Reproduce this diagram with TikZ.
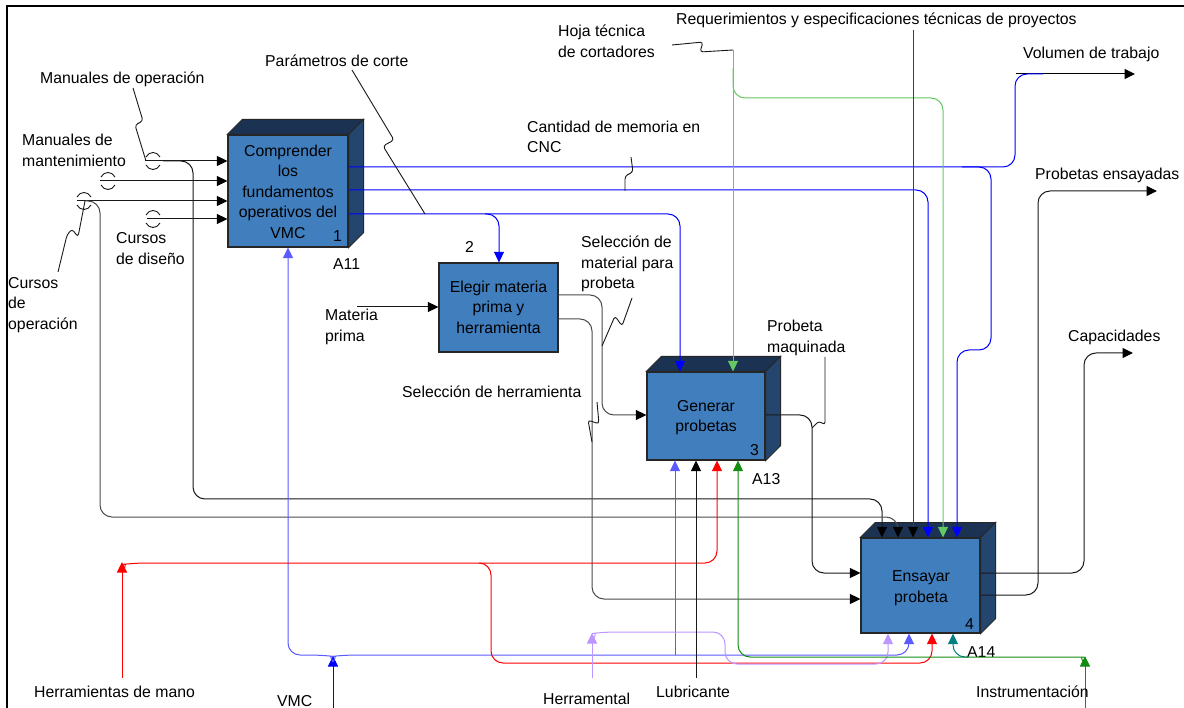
\documentclass[tikz,border=0pt]{standalone}
\usepackage{fontspec}
\setmainfont{Liberation Sans}
\usetikzlibrary{arrows.meta,calc}

\definecolor{boxfront}{RGB}{64,126,190}
\definecolor{boxside}{RGB}{36,70,110}
\definecolor{boxtop}{RGB}{27,50,82}
\definecolor{outblue}{RGB}{0,0,255}
\definecolor{mechblue}{RGB}{90,90,255}
\definecolor{lgreen}{RGB}{100,200,100}
\definecolor{dgreen}{RGB}{20,140,20}
\definecolor{tealc}{RGB}{0,128,128}
\definecolor{lav}{RGB}{190,150,255}
\definecolor{redc}{RGB}{255,0,0}
\definecolor{darkln}{RGB}{25,25,25}

% raised top and side faces of an activity box
\newcommand\idefcube[1]{%
  \filldraw[boxtop, draw=black!85, line width=0.8pt]
    (#1.north west) -- ++(15,-15) -- ($(#1.north east)+(15,-15)$) -- (#1.north east) -- cycle;
  \filldraw[boxside, draw=black!85, line width=0.8pt]
    (#1.north east) -- ++(15,-15) -- ($(#1.south east)+(15,-15)$) -- (#1.south east) -- cycle;}

\begin{document}
\begin{tikzpicture}[x=1pt,y=-1pt,
  every node/.style={inner sep=0pt, font=\fontsize{15.8}{20.5}\selectfont},
  ln/.style={line width=1pt, rounded corners=12pt},
  tip/.style={-{Triangle[length=10.5pt,width=10pt]}},
  tipk/.style={-{Triangle[length=10.5pt,width=10pt,color=black]}},
  lead/.style={line width=0.9pt, rounded corners=3pt, darkln},
  tunnel/.style={line width=0.9pt, darkln},
  activity/.style={draw=black!85, line width=1.2pt, fill=boxfront}]

\useasboundingbox (0,0) rectangle (1184,708);
\fill[white] (0,0) rectangle (1184,708);

% frame
\draw[line width=2.4pt] (7,708) -- (7,6) -- (1184,6);

% activity boxes
\node[activity, minimum width=120pt, minimum height=112pt] (b1) at (288,191) {};
\node[activity, minimum width=119pt, minimum height=89pt] (b2) at (498.5,307.5) {};
\node[activity, minimum width=118pt, minimum height=88pt] (b3) at (706,416) {};
\node[activity, minimum width=119pt, minimum height=95pt] (b4) at (920.5,585.5) {};
\idefcube{b1}
\idefcube{b3}
\idefcube{b4}

\node[align=center] (t1) at (288,191.5) {Comprender\\los\\fundamentos\\operativos del\\VMC};
\node[align=center] (t2) at (498.5,307) {Elegir materia\\prima y\\herramienta};
\node[align=center] (t3) at (706,417.5) {Generar\\probetas};
\node[align=center] (t4) at (921,588.4) {Ensayar\\probeta};
\node[anchor=base west] (n1) at (333,242) {1};
\node[anchor=base west] (n2) at (465,253) {2};
\node[anchor=base west] (n3) at (750,456) {3};
\node[anchor=base west] (n4) at (965,629) {4};
\node[anchor=base west] (a11) at (333,270) {A11};
\node[anchor=base west] (a13) at (752,485) {A13};
\node[anchor=base west] (a14) at (967,657) {A14};

% ---------- inputs of box 1 ----------
\draw[ln, darkln, tipk] (145,161) -- (b1.west |- 0,161);
\draw[ln, darkln, tipk] (163,161) -- (193,161) -- (193,499) -- (882,499) -- (882,0 |- b4.north);
\draw[ln, darkln, tipk] (100,181) -- (b1.west |- 0,181);
\draw[ln, darkln, tipk] (77,201) -- (b1.west |- 0,201);
\draw[ln, black!70, tipk] (85,201) -- (100,201) -- (100,517) -- (898,517) -- (898,0 |- b4.north);
\draw[ln, darkln, tipk] (147,219) -- (b1.west |- 0,219);

% tunnel marks
\foreach \cx/\cy in {153/161, 108/181, 84/201, 153/219}{
  \draw[tunnel] (\cx-7,\cy-4) .. controls (\cx-4,\cy-10) and (\cx+4,\cy-10) .. (\cx+7,\cy-4);
  \draw[tunnel] (\cx-7,\cy+4) .. controls (\cx-4,\cy+10) and (\cx+4,\cy+10) .. (\cx+7,\cy+4);
}

% ---------- outputs of box 1 ----------
\draw[ln, black, tipk] (1016,74) -- (1135,74);
\draw[ln, outblue] (b1.east |- 0,167) -- (1015,167) -- (1015,74) -- (1043,74);
\draw[ln, outblue, tip] (962,167) -- (991,167) -- (991,350) -- (957,350) -- (957,0 |- b4.north);
\draw[ln, outblue, tip] (b1.east |- 0,190) -- (928,190) -- (928,0 |- b4.north);
\draw[ln, outblue, tip] (b1.east |- 0,214) -- (680,214) -- (680,0 |- b3.north);
\draw[ln, outblue, tip] (485,214) -- (499,214) -- (499,0 |- b2.north);

% ---------- controls from above ----------
\draw[ln, lgreen, tip] (733,50) -- (733,0 |- b3.north);
\draw[ln, lgreen, tip] (733,68) -- (733,98) -- (943,98) -- (943,0 |- b4.north);
\draw[ln, black!75, tipk] (913,30) -- (913,0 |- b4.north);

% ---------- box 2 ----------
\draw[ln, darkln, tipk] (357,307) -- (b2.west |- 0,307);
\draw[ln, black!70, tipk] (b2.east |- 0,295) -- (602,295) -- (602,415) -- (b3.west |- 0,415);
\draw[ln, black!70, tipk] (b2.east |- 0,319) -- (592,319) -- (592,599) -- (b4.west |- 0,599);

% ---------- box 3 output ----------
\draw[ln, darkln, tipk] (b3.east |- 0,415) -- (812,415) -- (812,573) -- (b4.west |- 0,573);

% ---------- box 4 outputs ----------
\draw[ln, darkln, tipk] (b4.east |- 0,573) -- (1084,573) -- (1084,353) -- (1133,353);
\draw[ln, darkln, tipk] (b4.east |- 0,595) -- (1038,595) -- (1038,191) -- (1157,191);

% ---------- mechanisms ----------
% VMC
\draw[ln, outblue, tip] (333,708) -- (333,656);
\draw[ln, mechblue, tip] (333,662) .. controls (330,656) .. (321,655) -- (288,655) -- (288,0 |- b1.south);
\draw[ln, mechblue, tip] (333,662) .. controls (336,656) .. (345,655) -- (909,655) -- (909,0 |- b4.south);
\draw[ln, mechblue, tip] (675,655) -- (675,0 |- b3.south);
% hand tools
\draw[ln, redc, tip] (122,678) -- (122,562);
\draw[ln, redc, tip] (124,569) .. controls (126,564) .. (134,563) -- (717,563) -- (717,0 |- b3.south);
\draw[ln, redc, tip] (480,563) -- (491,563) -- (491,663) -- (932,663) -- (932,0 |- b4.south);
% tooling
\draw[ln, lav, tip] (592,678) -- (592,633);
\draw[ln, lav, tip] (594,638) .. controls (596,633) .. (604,632) -- (725,632) -- (725,664) -- (888,664) -- (888,0 |- b4.south);
% lubricant
\draw[ln, darkln, tipk] (696,678) -- (696,0 |- b3.south);
% instrumentation
\draw[ln, dgreen, tip] (1085,708) -- (1085,656);
\draw[ln, dgreen, tip] (1083,662) .. controls (1081,657) .. (1072,657) -- (738,657) -- (738,0 |- b3.south);
\draw[ln, tealc, tip] (968,657) -- (953,657) -- (953,0 |- b4.south);

% ---------- squiggle leaders ----------
\draw[lead] (133,88) -- (143,121) -- (135,125) -- (146,161);
\draw[lead] (58,272) -- (67,235) -- (72,229) -- (78,237) -- (85,201);
\draw[lead] (352,70) -- (394,140) -- (383,146) -- (425,214);
\draw[lead] (672,45) -- (703,42) -- (700,52) -- (733,50);
\draw[lead] (631,157) -- (633,172) -- (625,176) -- (625,191);
\draw[lead] (632,298) -- (622,326) -- (615,316) -- (602,346);
\draw[lead] (597,402) -- (599,424) -- (588,420) -- (592,442);
\draw[lead] (825,357) -- (825,425) -- (819,421) -- (812,428);

% ---------- labels ----------
\node[anchor=base west] (l1) at (40,84) {Manuales de operación};
\node[anchor=west, align=left] (l2) at (22,150.3) {Manuales de\\mantenimiento};
\node[anchor=west, align=left] (l3) at (116,248.4) {Cursos\\de diseño};
\node[anchor=west, align=left] (l4) at (8,305) {Cursos\\de\\operación};
\node[anchor=base west] (l5) at (265,67) {Parámetros de corte};
\node[anchor=west, align=left] (l6) at (325,327) {Materia\\prima};
\node[anchor=west, align=left] (l7) at (527,136.8) {Cantidad de memoria en\\CNC};
\node[anchor=west, align=left] (l8) at (558,41.3) {Hoja técnica\\de cortadores};
\node[anchor=base west] (l9) at (676,25) {Requerimientos y especificaciones técnicas de proyectos};
\node[anchor=base west] (l10) at (1023,59) {Volumen de trabajo};
\node[anchor=base west] (l11) at (1035,180) {Probetas ensayadas};
\node[anchor=west, align=left] (l12) at (581,263.9) {Selección de\\material para\\probeta};
\node[anchor=base west] (l13) at (402,398) {Selección de herramienta};
\node[anchor=west, align=left] (l14) at (767,337.9) {Probeta\\maquinada};
\node[anchor=base west] (l15) at (1068,342) {Capacidades};
\node[anchor=base west] (l16) at (34,697) {Herramientas de mano};
\node[anchor=base west] (l17) at (277,706) {VMC};
\node[anchor=base west] (l18) at (543,704) {Herramental};
\node[anchor=base west] (l19) at (656,697) {Lubricante};
\node[anchor=base west] (l20) at (976,697) {Instrumentación};

\end{tikzpicture}
\end{document}
